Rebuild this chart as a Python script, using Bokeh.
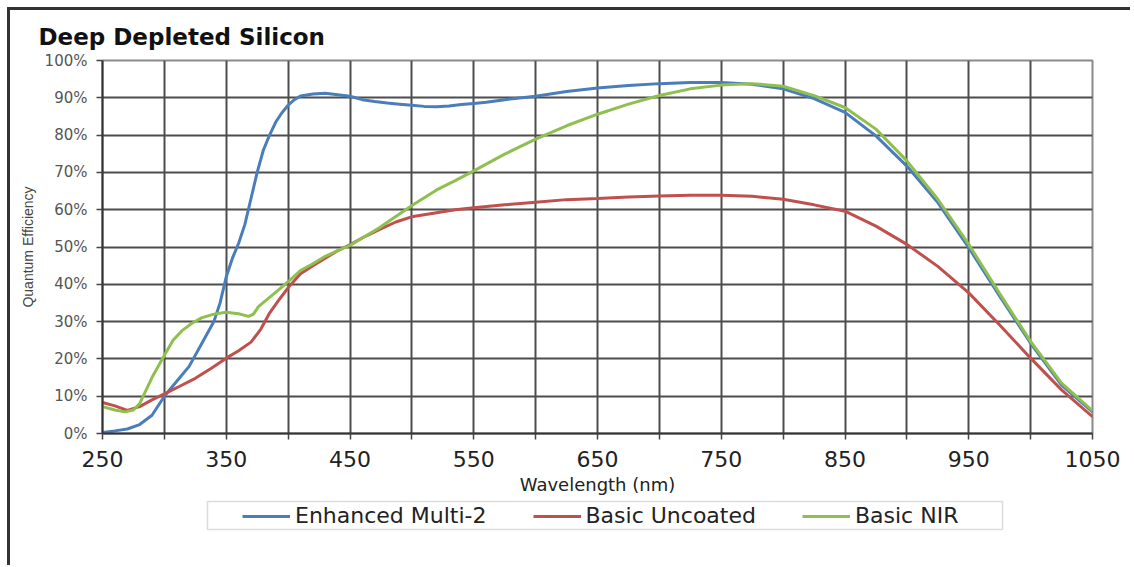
from bokeh.plotting import figure
from bokeh.models import FixedTicker, Legend, LegendItem, Range1d, BoxAnnotation
from bokeh.layouts import column
from bokeh.embed import file_html
from bokeh.resources import INLINE

# ---------------- data ----------------
title_text = "Deep Depleted Silicon"
x_label = "Wavelength (nm)"
y_label = "Quantum Efficiency"
series_names = ["Enhanced Multi-2", "Basic Uncoated", "Basic NIR"]

em2_nm = [250, 260, 270, 280, 290, 300, 310, 320, 330, 340, 345, 350, 355, 360,
          365, 370, 375, 380, 385, 390, 395, 400, 405, 410, 420, 430, 440, 450,
          460, 470, 480, 490, 500, 510, 520, 530, 540, 550, 560, 575, 600, 625,
          650, 675, 700, 725, 750, 775, 800, 825, 850, 875, 900, 925, 950, 975,
          1000, 1025, 1050]
em2_qe = [0.3, 0.7, 1.2, 2.4, 4.9, 10, 14, 18, 24, 30, 35, 42, 47, 51,
          56, 63, 70, 76, 80, 83.5, 86, 88, 89.5, 90.5, 91, 91.2, 90.8, 90.4,
          89.5, 89, 88.6, 88.3, 88, 87.7, 87.6, 87.8, 88.2, 88.5, 88.8, 89.5, 90.4, 91.7,
          92.6, 93.3, 93.8, 94.1, 94.1, 93.6, 92.4, 89.8, 86.1, 79.8, 71.7, 61.9, 49.8, 36.8,
          24.2, 13, 5.8]

unc_nm = [250, 260, 270, 280, 290, 300, 312, 325, 338, 350, 360, 370, 378, 385,
          393, 401, 410, 420, 430, 440, 451, 462, 474, 487, 501, 520, 535, 550,
          575, 600, 625, 650, 675, 700, 725, 750, 775, 800, 825, 850, 875, 900,
          925, 950, 975, 1000, 1025, 1050]
unc_qe = [8.3, 7.4, 6.2, 7.2, 9, 10.6, 12.6, 14.8, 17.5, 20.2, 22.2, 24.5, 28, 32.3,
          36, 39.5, 42.8, 45, 47, 49, 50.8, 52.8, 54.7, 56.7, 58.2, 59.2, 60, 60.5,
          61.3, 62, 62.7, 63, 63.4, 63.7, 63.9, 63.9, 63.6, 62.8, 61.3, 59.6, 55.6, 50.7,
          44.8, 37.7, 29.1, 20.2, 11.7, 4.5]

nir_nm = [250, 260, 268, 275, 280, 290, 300, 307, 314, 322, 330, 340, 350, 360,
          368, 372, 376, 385, 393, 401, 410, 420, 430, 440, 451, 462, 474, 487,
          501, 520, 535, 550, 575, 600, 625, 650, 675, 700, 725, 750, 775, 800,
          825, 850, 875, 900, 925, 950, 975, 1000, 1025, 1050]
nir_qe = [7.2, 6.3, 5.8, 6.3, 8, 15, 21, 25, 27.5, 29.5, 31, 32, 32.5, 32.1,
          31.4, 32, 34, 36.5, 38.7, 41, 43.7, 45.5, 47.5, 49, 50.6, 52.8, 55.2, 58.2,
          61.3, 65.3, 67.8, 70.4, 74.9, 78.9, 82.5, 85.6, 88.3, 90.6, 92.4, 93.4, 93.8, 93.1,
          90.6, 87.4, 81.6, 73.1, 62.8, 50.7, 37.5, 24.7, 13.5, 6.1]

x_ticks = list(range(250, 1051, 50))
x_tick_labels = {t: (str(t) if (t - 250) % 100 == 0 else "") for t in x_ticks}
y_ticks = list(range(0, 101, 10))
y_tick_labels = {t: f"{t}%" for t in y_ticks}

colors = ["#4a7ebb", "#c0504d", "#8fc04f"]

# ---------------- main chart ----------------
p = figure(width=1120, height=489, x_range=(250, 1050), y_range=(0, 100),
           output_backend="svg", toolbar_location=None,
           min_border_left=92, min_border_right=38, min_border_top=50,
           min_border_bottom=66, title=title_text)
p.background_fill_color = "white"
p.border_fill_color = "white"
p.outline_line_color = "#8a8a8a"
p.outline_line_width = 2

p.title.text_font = "DejaVu Sans"
p.title.text_font_size = "23px"
p.title.text_font_style = "bold"
p.title.text_color = "#111111"
p.title.align = "left"
p.title.offset = -64
p.title.standoff = 21

p.xaxis.ticker = FixedTicker(ticks=x_ticks)
p.xaxis.major_label_overrides = x_tick_labels
p.yaxis.ticker = FixedTicker(ticks=y_ticks)
p.yaxis.major_label_overrides = y_tick_labels

for ax in (p.xaxis, p.yaxis):
    ax.axis_line_color = "#333333"
    ax.axis_line_width = 2
    ax.major_tick_line_color = "#444444"
    ax.major_tick_line_width = 1.5
    ax.major_tick_out = 6
    ax.major_tick_in = 0
    ax.minor_tick_line_color = None
    ax.axis_label_text_font_style = "normal"

p.xaxis.major_label_text_font = "DejaVu Sans"
p.xaxis.major_label_text_font_size = "22px"
p.xaxis.major_label_text_color = "#222222"
p.xaxis.major_label_standoff = 11
p.xaxis.axis_label = x_label
p.xaxis.axis_label_text_font = "DejaVu Sans"
p.xaxis.axis_label_text_font_size = "18px"
p.xaxis.axis_label_text_color = "#222222"
p.xaxis.axis_label_standoff = 4

p.yaxis.major_label_text_font = "DejaVu Sans"
p.yaxis.major_label_text_font_size = "15px"
p.yaxis.major_label_text_color = "#555555"
p.yaxis.major_label_standoff = 9
p.yaxis.axis_label = y_label
p.yaxis.axis_label_text_font = "Liberation Sans"
p.yaxis.axis_label_text_font_size = "14px"
p.yaxis.axis_label_text_color = "#444444"
p.yaxis.axis_label_standoff = 6

p.xgrid.grid_line_color = "#4d4d4d"
p.xgrid.grid_line_width = 2
p.ygrid.grid_line_color = "#4d4d4d"
p.ygrid.grid_line_width = 2

p.line(em2_nm, em2_qe, line_color=colors[0], line_width=3)
p.line(unc_nm, unc_qe, line_color=colors[1], line_width=3)
p.line(nir_nm, nir_qe, line_color=colors[2], line_width=3)

# ---------------- legend strip ----------------
lg = figure(width=1120, height=66, x_range=Range1d(0, 1), y_range=Range1d(0, 1),
            output_backend="svg", toolbar_location=None,
            min_border_left=92, min_border_right=38, min_border_top=0,
            min_border_bottom=34, x_axis_type=None, y_axis_type=None)
lg.xgrid.visible = False
lg.ygrid.visible = False
lg.outline_line_color = None
lg.background_fill_color = "white"
lg.border_fill_color = "white"

box = BoxAnnotation(left=105, right=900, bottom=2, top=30,
                    left_units="screen", right_units="screen",
                    bottom_units="screen", top_units="screen",
                    fill_alpha=0, line_color="#8c8c8c", line_width=1.5)
lg.add_layout(box)

nan = float("nan")
sw = [lg.line([nan], [nan], line_color=c, line_width=3) for c in colors]
leg = Legend(items=[LegendItem(label=n, renderers=[r]) for n, r in zip(series_names, sw)],
             orientation="horizontal", location=(140, 3), padding=0, margin=0,
             spacing=46, glyph_width=48, glyph_height=20, label_standoff=5,
             label_text_font="DejaVu Sans", label_text_font_size="22px",
             label_text_color="#222222", border_line_alpha=0, background_fill_alpha=0)
lg.add_layout(leg, "center")

page = column(p, lg, spacing=0,
              styles={"margin-left": "7px", "margin-top": "7px",
                      "border-left": "3px solid #333333",
                      "border-top": "3px solid #333333"})

open("out.html", "w").write(file_html(page, INLINE))
